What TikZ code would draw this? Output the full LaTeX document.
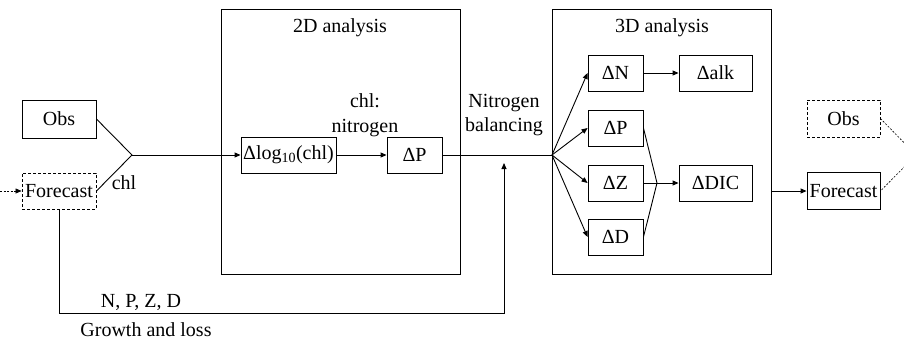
\documentclass[tikz,border=0pt]{standalone}
\usepackage{fontspec}
\setmainfont{Liberation Serif}
\usetikzlibrary{arrows.meta,calc}
\begin{document}
\begin{tikzpicture}[x=1pt,y=-1pt,
  font=\fontsize{20}{24.5}\selectfont,
  line width=0.9pt,
  box/.style={draw, inner sep=0pt, minimum height=36pt},
  dbox/.style={box, dash pattern=on 3pt off 2pt},
  arr/.style={-{Triangle[length=6pt,width=5pt]}},
  lbl/.style={inner sep=0pt, align=center}]
\clip (0,0) rectangle (904,341);
% frames
\node[draw, minimum width=239pt, minimum height=265pt, inner sep=0pt] (box2) at (340.5,141.5) {};
\node[draw, minimum width=219pt, minimum height=265pt, inner sep=0pt] (box3) at (661.5,141.5) {};
\node[lbl] (t2) at (340,28) {2D analysis};
\node[lbl] (t3) at (662,28) {3D analysis};
% left
\node[box, minimum width=74pt, minimum height=38pt] (obsL) at (59,119) {Obs};
\node[dbox, minimum width=74pt] (fcL) at (59,191) {Forecast};
\coordinate (J1) at (132,155);
\coordinate (in0) at (0,191);
\node[lbl] (chl) at (124,183) {chl};
% 2D
\node[box, minimum width=95pt] (dlog) at (288.5,155) {Δlog\textsubscript{10}(chl)};
\node[box, minimum width=55pt] (dP2) at (414.5,155) {ΔP};
\node[lbl] (ratio) at (365,115) {chl:\\nitrogen};
\node[lbl] (nb) at (504,115) {Nitrogen\\balancing};
% 3D
\coordinate (F) at (552,155);
\node[box, minimum width=55pt] (dN) at (615.5,73) {ΔN};
\node[box, minimum width=73pt] (dalk) at (715.5,73) {Δalk};
\node[box, minimum width=55pt] (dP3) at (615.5,128) {ΔP};
\node[box, minimum width=55pt] (dZ) at (615.5,183) {ΔZ};
\node[box, minimum width=55pt] (dD) at (615.5,237) {ΔD};
\node[box, minimum width=73pt] (dDIC) at (715.5,183) {ΔDIC};
\coordinate (M) at (657,183);
% right
\node[dbox, minimum width=73pt, minimum height=37pt] (obsR) at (843.5,118.5) {Obs};
\node[box, minimum width=73pt, minimum height=37pt] (fcR) at (843.5,191) {Forecast};
\coordinate (J2) at (916,155);
% bottom
\coordinate (B1) at (59,313);
\coordinate (B2) at (504,313);
\coordinate (up) at (504,163);
\node[lbl, anchor=base] (npzd) at (141,307) {N, P, Z, D};
\node[lbl, anchor=base] (gl) at (146,336) {Growth and loss};
% connectors
\draw (obsL.east) -- (J1) -- (fcL.east);
\draw[arr] (J1) -- (dlog.west);
\draw[arr, dash pattern=on 2pt off 1.5pt, line width=0.6pt] (in0) -- (fcL.west);
\draw[arr] (dlog.east) -- (dP2.west);
\draw (dP2.east) -- (F);
\draw[arr] (fcL.south) -- (B1) -- (B2) -- (up);
\foreach \t in {dN,dP3,dZ,dD} \draw[arr] (F) -- (\t.west);
\draw[arr] (dN.east) -- (dalk.west);
\draw (dP3.east) -- (M) -- (dD.east);
\draw[arr] (dZ.east) -- (dDIC.west);
\draw[arr] (box3.east |- fcR.west) -- (fcR.west);
\draw[dash pattern=on 2pt off 1.5pt, line width=0.6pt] (obsR.east) -- (J2) -- (fcR.east);
\end{tikzpicture}
\end{document}
